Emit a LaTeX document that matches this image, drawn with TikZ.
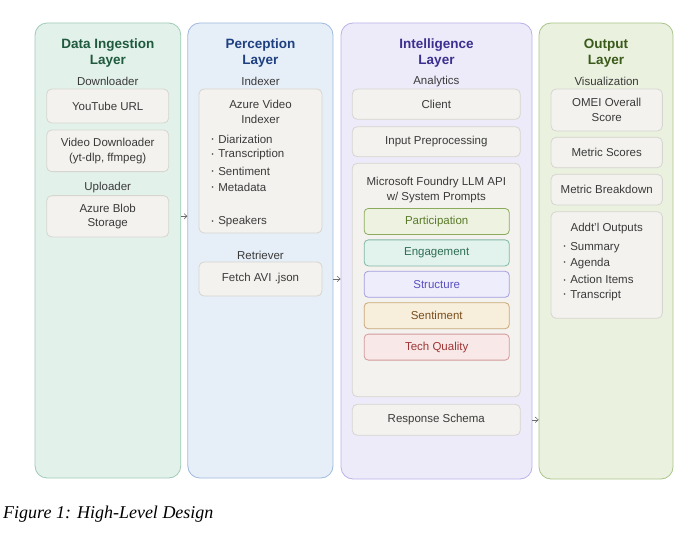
\documentclass[tikz,border=0pt]{standalone}
\usepackage{fontspec}
\setmainfont{Liberation Sans}
\newfontfamily\capfont{Liberation Serif}
\usetikzlibrary{arrows.meta,calc}

\definecolor{txt}{HTML}{3A3A3A}
\definecolor{boxfill}{HTML}{F3F2EE}
\definecolor{boxline}{HTML}{D6D5CF}
\definecolor{ingfill}{HTML}{E3F1EB}
\definecolor{ingline}{HTML}{9FCBB7}
\definecolor{ingtxt}{HTML}{1F5A3E}
\definecolor{perfill}{HTML}{E6EEF8}
\definecolor{perline}{HTML}{A0B9DE}
\definecolor{pertxt}{HTML}{1F4080}
\definecolor{intfill}{HTML}{EDEBFA}
\definecolor{intline}{HTML}{B9B2E8}
\definecolor{inttxt}{HTML}{3B2F8F}
\definecolor{outfill}{HTML}{EAF1DF}
\definecolor{outline}{HTML}{AAC58C}
\definecolor{outtxt}{HTML}{3A5A1A}
\definecolor{partline}{HTML}{8CAB5E}
\definecolor{partfill}{HTML}{EEF3E1}
\definecolor{parttxt}{HTML}{5A7A2A}
\definecolor{engline}{HTML}{80B9A4}
\definecolor{engfill}{HTML}{E2F2EC}
\definecolor{engtxt}{HTML}{2E6E55}
\definecolor{strline}{HTML}{A39DE2}
\definecolor{strfill}{HTML}{EEEDFB}
\definecolor{strtxt}{HTML}{5A4FC0}
\definecolor{senline}{HTML}{C9A877}
\definecolor{senfill}{HTML}{F7EEDC}
\definecolor{sentxt}{HTML}{7A4E1A}
\definecolor{tecline}{HTML}{D49A9A}
\definecolor{tecfill}{HTML}{F8E8E8}
\definecolor{tectxt}{HTML}{A03535}

\newcommand{\bul}{\raisebox{1.6pt}{\fontsize{6}{6}\selectfont\textbullet}\hspace{4.5pt}}

\begin{document}
\begin{tikzpicture}[x=1pt,y=-1pt,
  font=\fontsize{11.5}{14.5}\selectfont, text=txt,
  layer/.style={draw=#1line,fill=#1fill,line width=.8pt,rounded corners=12pt},
  title/.style={text=#1txt,font=\fontsize{13.5}{16}\selectfont\bfseries,align=center},
  part/.style={inner sep=0pt},
  box/.style={draw=boxline,fill=boxfill,line width=.8pt,rounded corners=5pt,align=center,inner sep=0pt},
  item/.style={anchor=west,inner sep=0pt},
  prompt/.style={draw=#1line,fill=#1fill,text=#1txt,line width=.8pt,rounded corners=4pt,minimum width=145pt,minimum height=26pt,inner sep=0pt},
  flow/.style={draw=gray!85!black,line width=.6pt,-{Straight Barb[length=3pt,width=5.5pt]}}]
  \useasboundingbox (0,0) rectangle (684,534);

  % layers
  \node[layer=ing,minimum width=145.7pt,minimum height=455pt] (ingest) at (107.9,250.5) {};
  \node[layer=per,minimum width=145.2pt,minimum height=455pt] (percep) at (260.4,250.5) {};
  \node[layer=int,minimum width=191pt,minimum height=456pt] (intel) at (436.5,251) {};
  \node[layer=out,minimum width=134pt,minimum height=456pt] (output) at (606,251) {};

  \node[title=ing] (ingest-t) at (107.9,53.5) {Data Ingestion\\Layer};
  \node[title=per] (percep-t) at (260.4,53.5) {Perception\\Layer};
  \node[title=int] (intel-t) at (436.5,53.5) {Intelligence\\Layer};
  \node[title=out] (output-t) at (606,53.5) {Output\\Layer};

  % data ingestion
  \node[part] (dl) at (107.7,81.7) {Downloader};
  \node[box,minimum width=122pt,minimum height=34pt] (yt) at (107.7,106) {YouTube URL};
  \node[box,minimum width=122pt,minimum height=41.7pt] (vdl) at (107.7,150.8) {Video Downloader\\(yt-dlp, ffmpeg)};
  \node[part] (ul) at (107.7,188) {Uploader};
  \node[box,minimum width=122pt,minimum height=41.3pt] (blob) at (107.7,216.3) {Azure Blob\\Storage};

  % perception
  \node[part] (ix) at (260.5,81.7) {Indexer};
  \node[box,minimum width=123pt,minimum height=144pt] (avi) at (260.5,161) {};
  \node[part,align=center] (avi-t) at (260.5,112) {Azure Video\\Indexer};
  \foreach \t/\y [count=\i] in {Diarization/139,Transcription/155,Sentiment/171,Metadata/187,Speakers/222}
    \node[item] (avi-\i) at (211.5,\y) {\bul\t};
  \node[part] (rt) at (260.5,255) {Retriever};
  \node[box,minimum width=123pt,minimum height=34pt] (fetch) at (260.5,279) {Fetch AVI .json};

  % intelligence
  \node[part] (an) at (436.3,81.7) {Analytics};
  \node[box,minimum width=168pt,minimum height=30.3pt] (client) at (436.3,104.2) {Client};
  \node[box,minimum width=168pt,minimum height=30pt] (prep) at (436.3,141.7) {Input Preprocessing};
  \node[box,minimum width=168pt,minimum height=233.4pt] (llm) at (436.3,280) {};
  \node[part,align=center] (llm-t) at (436.3,190) {Microsoft Foundry LLM API\\w/ System Prompts};
  \node[prompt=part] (p1) at (436.7,221.5) {Participation};
  \node[prompt=eng] (p2) at (436.7,252.9) {Engagement};
  \node[prompt=str] (p3) at (436.7,284.3) {Structure};
  \node[prompt=sen] (p4) at (436.7,315.7) {Sentiment};
  \node[prompt=tec] (p5) at (436.7,347.1) {Tech Quality};
  \node[box,minimum width=168pt,minimum height=31pt] (schema) at (436.3,419.8) {Response Schema};

  % output
  \node[part] (vz) at (606.7,81.7) {Visualization};
  \node[box,minimum width=111.3pt,minimum height=42pt] (omei) at (606.7,110) {OMEI Overall\\Score};
  \node[box,minimum width=111.3pt,minimum height=30.4pt] (mscore) at (606.7,152.5) {Metric Scores};
  \node[box,minimum width=111.3pt,minimum height=30.7pt] (mbreak) at (606.7,189.7) {Metric Breakdown};
  \node[box,minimum width=111.3pt,minimum height=106.6pt] (addtl) at (606.7,265) {};
  \node[part] (addtl-t) at (606.7,228.3) {Addt'l Outputs};
  \foreach \t/\y [count=\i] in {Summary/247.7,Agenda/263.5,Action Items/279.5,Transcript/295.5}
    \node[item] (addtl-\i) at (563.5,\y) {\bul\t};

  % flow between layers
  \draw[flow] (ingest.east |- blob) -- (percep.west |- blob);
  \draw[flow] (percep.east |- fetch) -- (intel.west |- fetch);
  \draw[flow] (intel.east |- schema) -- (output.west |- schema);

  \node[anchor=base west,inner sep=0pt,text=black,font=\capfont\itshape\fontsize{18}{20}\selectfont] (cap) at (3,518) {Figure 1: High-Level Design};
\end{tikzpicture}
\end{document}
